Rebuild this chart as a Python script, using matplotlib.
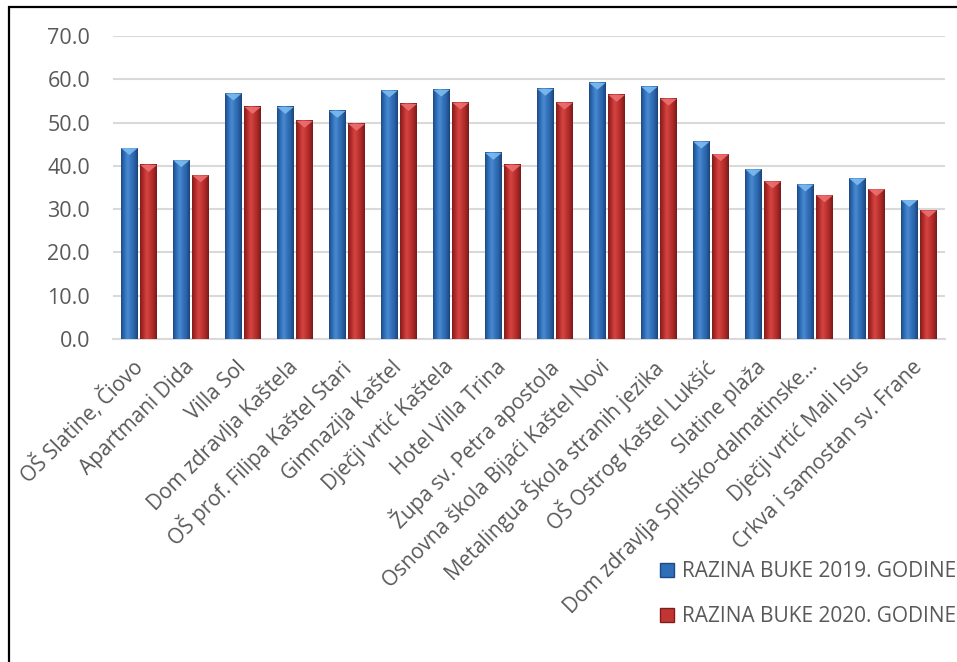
import matplotlib
matplotlib.use("Agg")
import matplotlib.pyplot as plt
import numpy as np
from matplotlib.colors import LinearSegmentedColormap
from matplotlib.patches import Rectangle, Polygon, Patch

plt.rcParams['font.family'] = ['Open Sans', 'DejaVu Sans']

categories = ["OŠ Slatine, Čiovo", "Apartmani Dida", "Villa Sol", "Dom zdravlja Kaštela",
              "OŠ prof. Filipa Kaštel Stari", "Gimnazija Kaštel", "Dječji vrtić Kaštela",
              "Hotel Villa Trina", "Župa sv. Petra apostola", "Osnovna škola Bijaći Kaštel Novi",
              "Metalingua Škola stranih jezika", "OŠ Ostrog Kaštel Lukšić", "Slatine plaža",
              "Dom zdravlja Splitsko-dalmatinske…", "Dječji vrtić Mali Isus",
              "Crkva i samostan sv. Frane"]
vals_2019 = [44.1, 41.3, 56.7, 53.6, 52.7, 57.4, 57.6, 43.0, 57.8, 59.2, 58.3, 45.6, 39.2, 35.7, 37.1, 32.1]
vals_2020 = [40.2, 37.8, 53.6, 50.4, 49.7, 54.3, 54.6, 40.2, 54.6, 56.4, 55.5, 42.7, 36.4, 33.2, 34.6, 29.7]
series_labels = ["RAZINA BUKE 2019. GODINE", "RAZINA BUKE 2020. GODINE"]
yticks = [0, 10, 20, 30, 40, 50, 60, 70]

W, H = 957, 662
fig = plt.figure(figsize=(W/100, H/100), dpi=100)
ax = fig.add_axes([113/W, 1-339/H, (945-113)/W, (339-36)/H])

x = np.arange(len(categories))
bw = 0.32
off = 0.185

blue_cmap = LinearSegmentedColormap.from_list("b", ["#1d4a85", "#2f6fb8", "#4a8ad0", "#3474bd", "#2a62a6", "#1b437a"])
red_cmap = LinearSegmentedColormap.from_list("r", ["#7f1d1c", "#b62c2a", "#d44544", "#c13533", "#a82826", "#761a19"])

bars1 = ax.bar(x - off, vals_2019, bw, color="#2f6fb8", zorder=3)
bars2 = ax.bar(x + off, vals_2020, bw, color="#c13533", zorder=3)

grad = np.linspace(0, 1, 64).reshape(1, -1)
for bars, cmap, capc in [(bars1, blue_cmap, "#7cbcf0"), (bars2, red_cmap, "#ec7070")]:
    for b in bars:
        x0, w, h = b.get_x(), b.get_width(), b.get_height()
        ax.imshow(grad, cmap=cmap, extent=[x0, x0 + w, 0, h], aspect='auto', zorder=4,
                  interpolation='bilinear')
        ax.add_patch(Polygon([[x0, h], [x0 + w, h], [x0 + w/2, h - 1.6]], closed=True,
                             facecolor=capc, edgecolor='none', zorder=5, alpha=0.9))

ax.set_xlim(-0.5, len(categories) - 0.5)
ax.set_ylim(0, 70)
ax.set_yticks(yticks)
ax.set_yticklabels([f"{v:.1f}" for v in yticks])
ax.set_xticks(x)
ax.set_xticklabels(categories, rotation=45, ha='right', va='center', rotation_mode='anchor')
ax.grid(axis='y', color='#d9d9d9', linewidth=1.5, zorder=0)
ax.set_axisbelow(True)
for s in ['top', 'right', 'left']:
    ax.spines[s].set_visible(False)
ax.spines['bottom'].set_color('#d9d9d9')
ax.spines['bottom'].set_linewidth(1.5)
ax.tick_params(axis='both', length=0, colors='#595959')
ax.tick_params(axis='y', pad=16.5, labelsize=15.5)
ax.tick_params(axis='x', pad=18, labelsize=15)

handles = [Patch(facecolor="#2f6fb8", edgecolor="#1d4a85"),
           Patch(facecolor="#c13533", edgecolor="#7f1d1c")]
leg = fig.legend(handles, series_labels, loc='upper left',
                 bbox_to_anchor=(660/W, 1-561/H), frameon=False, fontsize=15,
                 handlelength=0.65, handleheight=0.65, handletextpad=0.4, labelspacing=1.15,
                 borderaxespad=0, borderpad=0)
for t in leg.get_texts():
    t.set_color('#595959')

fig.patches.append(Rectangle((9/W, -0.1), 2, 1.1 - 7/H, transform=fig.transFigure,
                             fill=False, edgecolor='black', linewidth=1.6, zorder=10))

fig.savefig("out.png", dpi=100)
